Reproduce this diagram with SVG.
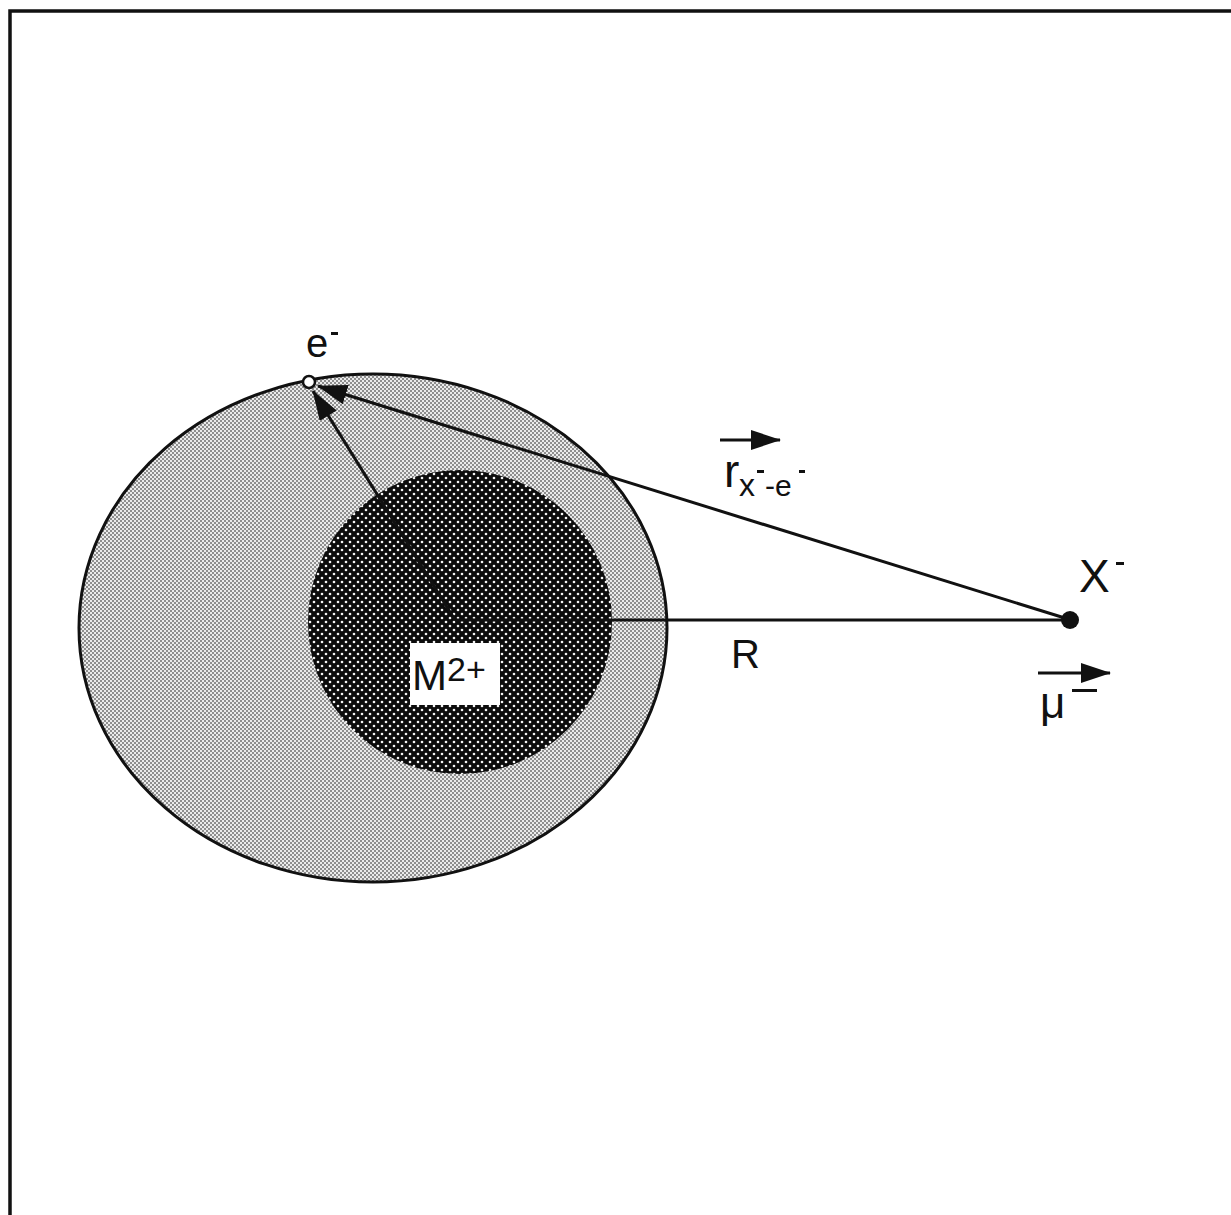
<svg xmlns="http://www.w3.org/2000/svg" width="1231" height="1215" viewBox="0 0 1231 1215">
<style>
.ln{stroke:#111;stroke-width:3;fill:none}
.t{font-family:"Liberation Sans",Arial,sans-serif;fill:#111}
</style>
<defs>
<pattern id="light" width="4" height="4" patternUnits="userSpaceOnUse">
<rect width="4" height="4" fill="#ebebeb"/>
<rect x="0" y="0" width="2" height="2" fill="#8e8e8e"/>
<rect x="2" y="2" width="2" height="2" fill="#8e8e8e"/>
</pattern>
<pattern id="dark" width="8" height="8" patternUnits="userSpaceOnUse">
<rect width="8" height="8" fill="#0c0c0c"/>
<circle cx="2" cy="2" r="1.3" fill="#f4f4f4"/>
<circle cx="6" cy="6" r="1.3" fill="#f4f4f4"/>
</pattern>
<marker id="big" viewBox="0 0 30 20" refX="29" refY="10" markerWidth="30" markerHeight="20" orient="auto" markerUnits="userSpaceOnUse">
<path d="M0,0 L30,10 L0,20 z" fill="#111"/>
</marker>
</defs>
<rect width="1231" height="1215" fill="#fff"/>
<path id="frame" d="M10,1215 V11 H1231" stroke="#111" stroke-width="3.5" fill="none"/>
<g id="outer"><ellipse cx="373" cy="628" rx="294" ry="254" fill="url(#light)" stroke="#111" stroke-width="3"/></g>
<g id="inner"><circle cx="460" cy="622" r="152" fill="url(#dark)"/></g>
<g id="connectors">
<line class="ln" x1="455" y1="620" x2="1070" y2="620"/>
<line class="ln" x1="455" y1="620" x2="313" y2="391" marker-end="url(#big)"/>
<line class="ln" x1="1068" y1="619" x2="318" y2="386" marker-end="url(#big)"/>
<line class="ln" x1="720" y1="440" x2="780" y2="440" marker-end="url(#big)"/>
<line class="ln" x1="1038" y1="673" x2="1110" y2="673" marker-end="url(#big)"/>
</g>
<g id="electron"><circle cx="309" cy="382" r="6" fill="#fff" stroke="#111" stroke-width="2.5"/>
<text class="t" x="306" y="357" font-size="40">e</text><rect x="331" y="332" width="7" height="3" fill="#111"/></g>
<g id="xion"><circle cx="1070" cy="620" r="9" fill="#111"/>
<text class="t" x="1079" y="592" font-size="46">X</text><rect x="1116" y="562" width="8" height="3" fill="#111"/></g>
<g id="m2"><rect x="410" y="643" width="90" height="62" fill="#fff"/>
<text class="t" x="412" y="690" font-size="42">M</text><text class="t" x="447" y="681" font-size="34">2+</text></g>
<g id="labels">
<text class="t" x="724" y="487" font-size="46">r</text>
<text class="t" x="739" y="496" font-size="32">x</text>
<rect x="757" y="470" width="7" height="3" fill="#111"/>
<text class="t" x="765" y="496" font-size="30">-e</text>
<rect x="799" y="470" width="6" height="3" fill="#111"/>
<text class="t" x="731" y="668" font-size="40">R</text>
<text class="t" x="1040" y="718" font-size="44" font-family="'DejaVu Serif',serif">μ</text>
<rect x="1072" y="689" width="25" height="3" fill="#111"/>
</g>
</svg>
